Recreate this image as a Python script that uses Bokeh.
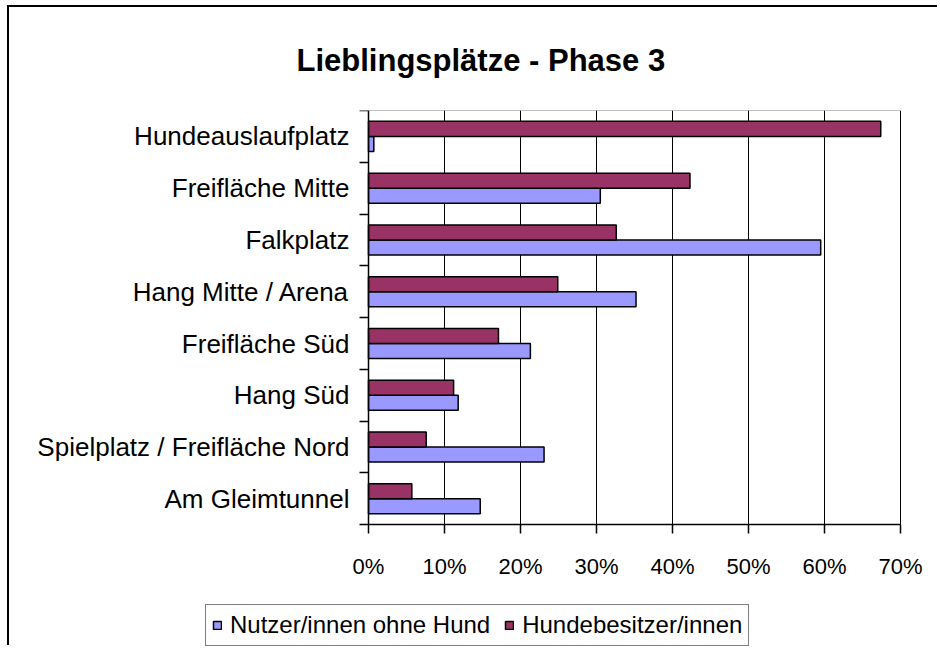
from bokeh.plotting import figure
from bokeh.models import Range1d, FixedTicker, PrintfTickFormatter, Legend, LegendItem, Title
from bokeh.embed import file_html
from bokeh.resources import INLINE

categories = ["Hundeauslaufplatz", "Freifläche Mitte", "Falkplatz", "Hang Mitte / Arena",
              "Freifläche Süd", "Hang Süd", "Spielplatz / Freifläche Nord", "Am Gleimtunnel"]
ohne_hund = [0.7, 30.5, 59.5, 35.2, 21.3, 11.8, 23.1, 14.7]
hundebesitzer = [67.4, 42.3, 32.6, 24.9, 17.1, 11.2, 7.6, 5.7]
x_ticks = [0, 10, 20, 30, 40, 50, 60, 70]
series_names = ["Nutzer/innen ohne Hund", "Hundebesitzer/innen"]
title_text = "Lieblingsplätze - Phase 3"

FONT = "Liberation Sans"
BLUE = "#9999FF"
MAROON = "#993366"
n = len(categories)
x_max = x_ticks[-1]
centers = [n - 1 - i + 0.5 for i in range(n)]
bar_h = 0.29
blue_y = [c - bar_h / 2 for c in centers]
red_y = [c + bar_h / 2 for c in centers]

# layout geometry (pixels inside the figure canvas)
W, H = 930, 640
B_LEFT, B_TOP = 20, 102
PLOT_L, PLOT_R = 359, 891      # plot area left/right within canvas
PLOT_B = 517                   # plot area bottom within canvas
frame_w = W - B_LEFT
frame_h = H - B_TOP
px_x = (PLOT_R - PLOT_L) / x_max
px_y = (PLOT_B - B_TOP) / n
x_start = -(PLOT_L - B_LEFT) / px_x
x_end = x_start + frame_w / px_x
y_start = -(H - PLOT_B) / px_y

p = figure(width=W, height=H, x_range=Range1d(x_start, x_end), y_range=Range1d(y_start, n),
           output_backend="svg", toolbar_location=None,
           min_border_left=B_LEFT, min_border_right=0, min_border_top=B_TOP, min_border_bottom=0)
p.styles = {"border-left": "2px solid black", "border-top": "2px solid black",
            "margin-left": "7px", "margin-top": "5px"}
p.background_fill_color = "white"
p.border_fill_color = "white"
p.outline_line_color = None
p.xgrid.visible = False
p.ygrid.visible = False

# plot-area top edge and vertical gridlines
p.segment(x0=[x_ticks[0]], y0=[n], x1=[x_max], y1=[n], line_color="#808080", line_width=1)
p.segment(x0=x_ticks[1:], y0=0, x1=x_ticks[1:], y1=n, line_color="black", line_width=1)

r_blue = p.hbar(y=blue_y, right=ohne_hund, left=0, height=bar_h,
                fill_color=BLUE, line_color="black", line_width=1.5)
r_red = p.hbar(y=red_y, right=hundebesitzer, left=0, height=bar_h,
               fill_color=MAROON, line_color="black", line_width=1.5)

# x axis
xa = p.xaxis[0]
xa.fixed_location = 0
xa.bounds = (0, x_max)
xa.ticker = FixedTicker(ticks=x_ticks)
xa.formatter = PrintfTickFormatter(format="%d%%")
xa.axis_line_color = "black"
xa.axis_line_width = 1.5
xa.major_tick_line_color = "black"
xa.major_tick_line_width = 1.5
xa.major_tick_out = 9
xa.major_tick_in = 0
xa.minor_tick_line_color = None
xa.major_label_standoff = 20
xa.major_label_text_font = FONT
xa.major_label_text_font_size = "22px"
xa.major_label_text_color = "black"

# y axis
ya = p.yaxis[0]
ya.fixed_location = 0
ya.bounds = (0, n)
ya.ticker = FixedTicker(ticks=centers, minor_ticks=list(range(n + 1)))
ya.major_label_overrides = {c: cat for c, cat in zip(centers, categories)}
ya.axis_line_color = "black"
ya.axis_line_width = 1.5
ya.major_tick_line_color = None
ya.major_tick_out = 9
ya.major_tick_in = 0
ya.minor_tick_line_color = "black"
ya.minor_tick_line_width = 1.5
ya.minor_tick_out = 9
ya.minor_tick_in = 0
ya.major_label_standoff = 10
ya.major_label_text_font = FONT
ya.major_label_text_font_size = "26px"
ya.major_label_text_color = "black"

p.title = Title(text=title_text, align="left", offset=-72 + (PLOT_L - B_LEFT), standoff=66,
                text_font=FONT, text_font_style="bold", text_font_size="31px",
                text_color="black")

legend = Legend(items=[LegendItem(label=series_names[0], renderers=[r_blue]),
                       LegendItem(label=series_names[1], renderers=[r_red])],
                orientation="horizontal", location=(196 - B_LEFT, 1),
                border_line_color="black", border_line_width=1.5,
                label_text_font=FONT, label_text_font_size="24px", label_height=24,
                label_text_color="black",
                glyph_width=10, glyph_height=10, label_standoff=8, spacing=14,
                padding=6, margin=0, background_fill_alpha=1.0)
p.add_layout(legend, "center")

open("out.html", "w").write(file_html(p, INLINE))
